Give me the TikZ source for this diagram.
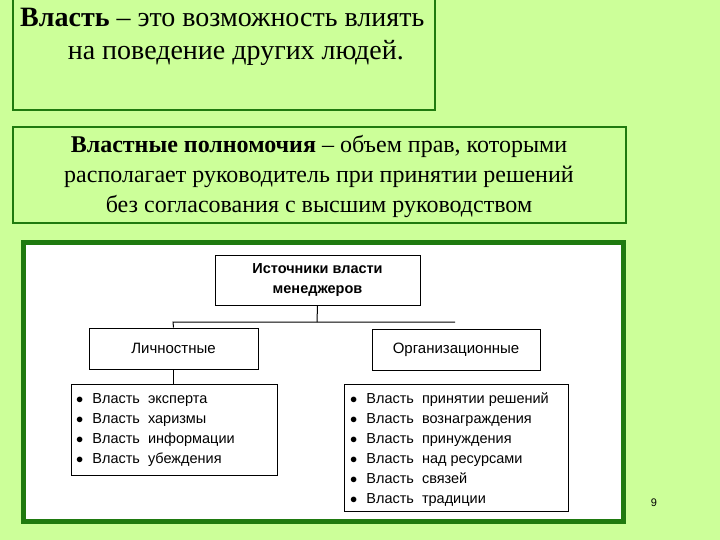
\documentclass[tikz,border=0pt]{standalone}
\usepackage{fontspec}
\setmainfont{Liberation Serif}
\newfontfamily\inner{Liberation Sans}
\definecolor{bg}{HTML}{CCFF99}
\definecolor{gb}{HTML}{1F7A0F}
\begin{document}
\begin{tikzpicture}[x=1pt,y=-1pt,
 gbox/.style={draw=gb,line width=1.5pt},
 wbox/.style={draw=black,line width=1pt,fill=white},
 ln/.style={draw=black,line width=1pt},
 itm/.style={anchor=base west,font=\inner\fontsize{14.5}{16}\selectfont,inner sep=0}]
\fill[bg] (0,0) rectangle (720,540);
\useasboundingbox (0,0) rectangle (720,540);
\draw[gbox] (13,-2) rectangle (435,110);
\node[anchor=north west,align=left,font=\fontsize{28}{33}\selectfont,inner sep=0] (t1) at (20,8)
 {\textbf{Власть} – это возможность влиять\\\hspace*{1.7em}на поведение других людей.};
\draw[gbox] (13,127) rectangle (626,223);
\node[align=center,font=\fontsize{24}{30}\selectfont] (t2) at (319,177)
 {\textbf{Властные полномочия} – объем прав, которыми\\располагает руководитель при принятии решений\\без согласования с высшим руководством};
\draw[draw=gb,line width=5pt,fill=white] (23,242) rectangle (623,521);
\node[wbox,minimum width=205,minimum height=50,align=center,font=\inner\bfseries\fontsize{14.5}{20}\selectfont] (src) at (317.5,280) {Источники власти\\менеджеров};
\node[wbox,minimum width=169,minimum height=41,font=\inner\fontsize{15}{17}\selectfont] (lich) at (173.5,348.5) {Личностные};
\node[wbox,minimum width=168,minimum height=41,font=\inner\fontsize{15}{17}\selectfont] (org) at (456,349.5) {Организационные};
\node[wbox,minimum width=206,minimum height=91] (l1) at (174,429.5) {};
\node[wbox,minimum width=224,minimum height=127] (l2) at (456,447.5) {};
\coordinate (jl) at (173,322);
\coordinate (jr) at (455,322);
\coordinate (jm) at (317,322);
\draw[ln] (src.south) -- (jm);
\draw[ln] (lich.north) -- (jl) -- (jr);
\draw[ln] (lich.south) -- (l1.north -| lich.south);
\foreach \t [count=\i] in {эксперта,харизмы,информации,убеждения}
 \node[itm] (a\i) at (76,{403+(\i-1)*20}) {$\bullet$\hspace{9pt}Власть\hspace{8pt}\t};
\foreach \t [count=\i] in {принятии решений,вознаграждения,принуждения,над ресурсами,связей,традиции}
 \node[itm] (b\i) at (350,{403+(\i-1)*20}) {$\bullet$\hspace{9pt}Власть\hspace{8pt}\t};
\node[font=\inner\fontsize{11}{12}\selectfont] (pg) at (654,503) {9};
\end{tikzpicture}
\end{document}
